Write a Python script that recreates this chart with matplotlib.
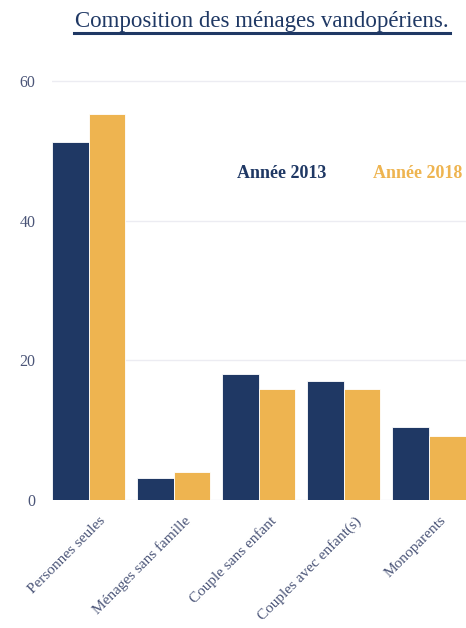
import matplotlib
matplotlib.use("Agg")
import matplotlib.pyplot as plt
import numpy as np

categories = ["Personnes seules", "Ménages sans famille", "Couple sans enfant",
              "Couples avec enfant(s)", "Monoparents"]
annee_2013 = [51.3, 3.2, 18.1, 17.1, 10.4]
annee_2018 = [55.3, 4.0, 15.9, 15.9, 9.2]
yticks = [0, 20, 40, 60]

navy = "#1f3864"
orange = "#eeb450"
tick_col = "#4b5578"

plt.rcParams["font.family"] = ["Liberation Serif", "DejaVu Serif"]

fig = plt.figure(figsize=(4.66, 6.28), dpi=100)
ax = fig.add_axes([52 / 466, 128 / 628, 1 - 52 / 466, (557.3 - 128) / 628])

x = np.arange(len(categories))
w = 0.43
ax.bar(x - w / 2, annee_2013, w, color=navy, edgecolor="white", linewidth=0.6, zorder=3)
ax.bar(x + w / 2, annee_2018, w, color=orange, edgecolor="white", linewidth=0.6, zorder=3)

ax.set_xlim(-0.43, 4.435)
ax.set_ylim(0, 61.5)
ax.set_yticks(yticks)
ax.set_yticklabels([str(v) for v in yticks], fontsize=11.5, color=tick_col)
ax.grid(axis="y", color="#ececf2", linewidth=1, zorder=0)
ax.set_xticks(x + 0.12)
ax.set_xticklabels(categories, rotation=45, ha="right", va="top",
                   rotation_mode="anchor", fontsize=11, color=tick_col)
ax.tick_params(length=0, pad=10)
ax.tick_params(axis="y", pad=12)
for s in ax.spines.values():
    s.set_visible(False)

fig.text(282 / 466, 1 - 173 / 628, "Année 2013", color=navy, fontsize=13,
         fontweight="bold", ha="center", va="center")
fig.text(418 / 466, 1 - 173 / 628, "Année 2018", color=orange, fontsize=13,
         fontweight="bold", ha="center", va="center")

fig.text(262 / 466, 1 - 21 / 628, "Composition des ménages vandopériens.",
         color=navy, fontsize=16.5, ha="center", va="center")
fig.add_artist(plt.Line2D([74 / 466, 450 / 466], [1 - 33 / 628, 1 - 33 / 628],
                          color=navy, linewidth=2.2, transform=fig.transFigure))

fig.savefig("out.png", dpi=100)
